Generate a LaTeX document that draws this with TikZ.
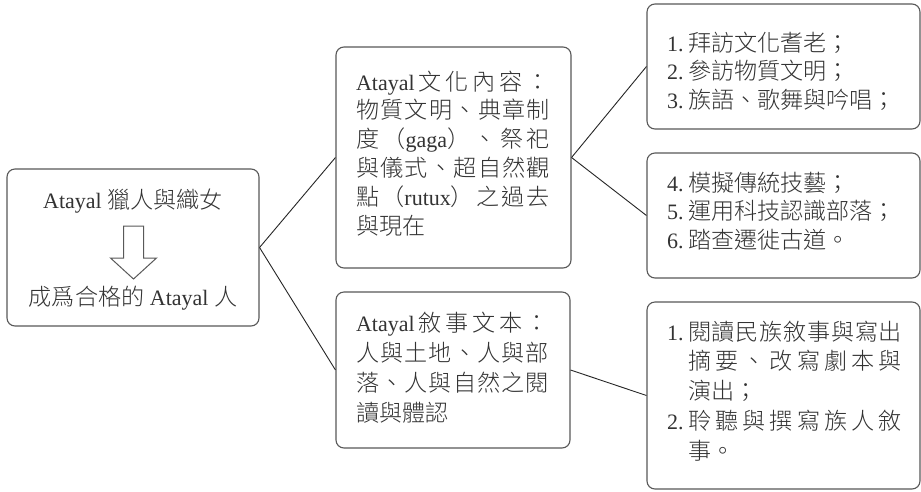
\documentclass[tikz,border=0pt]{standalone}
\usepackage{fontspec}
\setmainfont{Liberation Serif}
\newfontfamily\cjk[Scale=1.05]{Noto Sans CJK TC Light}
\newcommand\blk[2]{\vtop{\baselineskip=#1pt\lineskiplimit=-100pt\lineskip=0pt\relax #2}}
\newcommand\jl[2]{\hbox{\makebox[#1pt][s]{#2}}}
\newcommand\qf{\hfill}
\newcommand\numb[1]{\makebox[21pt][l]{#1}}
\definecolor{textc}{gray}{0.2}
\definecolor{boxc}{gray}{0.35}
\definecolor{linec}{gray}{0.15}
\tikzset{
  bx/.style={draw=boxc, line width=1.1pt, rounded corners=8pt, inner sep=0pt, fill=none},
  txt/.style={inner sep=0pt, outer sep=0pt, text=textc, font=\fontsize{22}{29}\selectfont},
  conn/.style={draw=linec, line width=0.9pt}
}
\begin{document}
\begin{tikzpicture}[x=1pt,y=-1pt]
\useasboundingbox[fill=white] (0,0) rectangle (921,491);
% boxes
\node (L)  [bx, minimum width=252pt, minimum height=157pt] at (133,247.5) {};
\node (MT) [bx, minimum width=235pt, minimum height=221pt] at (453.5,157.5) {};
\node (MB) [bx, minimum width=234pt, minimum height=156pt] at (453,370) {};
\node (RT) [bx, minimum width=273pt, minimum height=125pt] at (783.5,66.5) {};
\node (RM) [bx, minimum width=273pt, minimum height=125pt] at (783.5,215.5) {};
\node (RB) [bx, minimum width=273pt, minimum height=187pt] at (783.5,395.5) {};
% connectors
\draw[conn] (L.east) -- (MT.west);
\draw[conn] (L.east) -- (MB.west);
\draw[conn] (MT.east) -- (RT.west);
\draw[conn] (MT.east) -- (RM.west);
\draw[conn] (MB.east) -- (RB.west);
% left box
\node (la) [txt, anchor=base] at (133,208) {Atayal {\cjk 獵人與織女}};
\node (lb) [txt, anchor=base] at (133,305) {{\cjk 成爲合格的} Atayal {\cjk 人}};
\draw[boxc, line width=1pt, line join=miter] (123.5,226) -- (143.5,226) -- (143.5,258) -- (156.5,258) -- (133.5,279) -- (110.5,258) -- (123.5,258) -- cycle;
% middle top
\node (mt) [txt, anchor=base west] at (356,90) {\blk{28.8}{%
\jl{194}{Atayal\qf\cjk 文\qf 化\qf 內\qf 容\qf ：}%
\jl{194}{\cjk 物\qf 質\qf 文\qf 明\qf 、\qf 典\qf 章\qf 制}%
\jl{194}{{\cjk 度\qf （}gaga{\cjk ）\qf 、\qf 祭\qf 祀}}%
\jl{194}{\cjk 與\qf 儀\qf 式\qf 、\qf 超\qf 自\qf 然\qf 觀}%
\jl{194}{{\cjk 點\qf （}rutux{\cjk ）\qf 之\qf 過\qf 去}}%
\hbox{\cjk 與現在}}};
% middle bottom
\node (mb) [txt, anchor=base west] at (356,331) {\blk{30}{%
\jl{193}{Atayal\qf\cjk 敘\qf 事\qf 文\qf 本\qf ：}%
\jl{193}{\cjk 人\qf 與\qf 土\qf 地\qf 、\qf 人\qf 與\qf 部}%
\jl{193}{\cjk 落\qf 、\qf 人\qf 與\qf 自\qf 然\qf 之\qf 閱}%
\hbox{\cjk 讀與體認}}};
% right top
\node (rt) [txt, anchor=base west] at (667,51) {\blk{28.5}{%
\hbox{\numb{1.}\cjk 拜訪文化耆老；}%
\hbox{\numb{2.}\cjk 參訪物質文明；}%
\hbox{\numb{3.}\cjk 族語、歌舞與吟唱；}}};
% right middle
\node (rm) [txt, anchor=base west] at (667,191) {\blk{28.5}{%
\hbox{\numb{4.}\cjk 模擬傳統技藝；}%
\hbox{\numb{5.}\cjk 運用科技認識部落；}%
\hbox{\numb{6.}\cjk 踏查遷徙古道。}}};
% right bottom
\node (rb) [txt, anchor=base west] at (667,340) {\blk{29.8}{%
\hbox{\numb{1.}\makebox[214pt][s]{\cjk 閱\qf 讀\qf 民\qf 族\qf 敘\qf 事\qf 與\qf 寫\qf 出}}%
\hbox{\hspace*{21pt}\makebox[214pt][s]{\cjk 摘\qf 要\qf 、\qf 改\qf 寫\qf 劇\qf 本\qf 與}}%
\hbox{\hspace*{21pt}\cjk 演出；}%
\hbox{\numb{2.}\makebox[214pt][s]{\cjk 聆\qf 聽\qf 與\qf 撰\qf 寫\qf 族\qf 人\qf 敘}}%
\hbox{\hspace*{21pt}\cjk 事。}}};
\end{tikzpicture}
\end{document}
